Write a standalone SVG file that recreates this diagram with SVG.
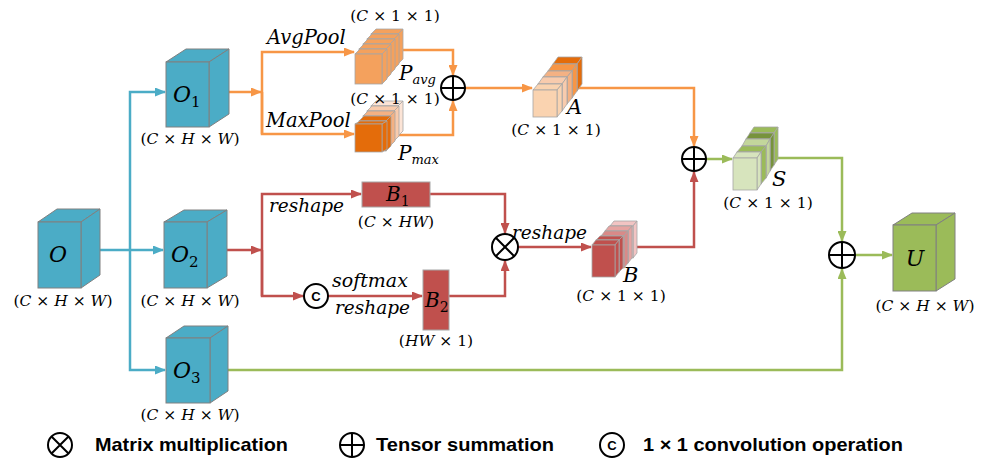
<svg xmlns="http://www.w3.org/2000/svg" width="989" height="458" viewBox="0 0 989 458">
<style>
.cb{fill:#4BACC6;stroke:#808080;stroke-width:1}
.cu{fill:#9BBB59;stroke:#808080;stroke-width:1}
.sl{stroke:#A6A6A6;stroke-width:0.8}
.m{font-family:"DejaVu Serif","Liberation Serif",serif;fill:#000}
.i{font-style:italic}
.dim{font-family:"DejaVu Serif","Liberation Serif",serif;font-size:15.5px;fill:#000}
.lg{font-family:"Liberation Sans",Arial,sans-serif;font-size:19px;font-weight:bold;fill:#000}
.bl{fill:none;stroke:#4BACC6;stroke-width:2.5}
.or{fill:none;stroke:#F79646;stroke-width:2.5}
.rd{fill:none;stroke:#C0504D;stroke-width:2.5}
.gr{fill:none;stroke:#9BBB59;stroke-width:2.5}
.op{fill:#fff;stroke:#000;stroke-width:2}
.opl{stroke:#000;stroke-width:2}
</style>
<defs>
<marker id="ab" markerWidth="11" markerHeight="9" refX="10" refY="4.5" orient="auto" markerUnits="userSpaceOnUse"><path d="M0,0 L11,4.5 L0,9 z" fill="#4BACC6"/></marker>
<marker id="ao" markerWidth="11" markerHeight="9" refX="10" refY="4.5" orient="auto" markerUnits="userSpaceOnUse"><path d="M0,0 L11,4.5 L0,9 z" fill="#F79646"/></marker>
<marker id="ar" markerWidth="11" markerHeight="9" refX="10" refY="4.5" orient="auto" markerUnits="userSpaceOnUse"><path d="M0,0 L11,4.5 L0,9 z" fill="#C0504D"/></marker>
<marker id="ag" markerWidth="11" markerHeight="9" refX="10" refY="4.5" orient="auto" markerUnits="userSpaceOnUse"><path d="M0,0 L11,4.5 L0,9 z" fill="#9BBB59"/></marker>
</defs>

<g id="connectors">
<path class="bl" d="M100,250 L163,250" marker-end="url(#ab)"/>
<path class="bl" d="M130,250 L130,92 L165,92" marker-end="url(#ab)"/>
<path class="bl" d="M130,250 L130,370 L165,370" marker-end="url(#ab)"/>
<path class="or" d="M229,92 L261,92" marker-end="url(#ao)"/>
<path class="or" d="M262,134 L262,52 L354,52" marker-end="url(#ao)"/>
<path class="or" d="M262,92 L262,134 L354,134" marker-end="url(#ao)"/>
<path class="or" d="M400,50 L453,50 L453,75" marker-end="url(#ao)"/>
<path class="or" d="M395,135 L453,135 L453,101" marker-end="url(#ao)"/>
<path class="or" d="M465,88 L532,88" marker-end="url(#ao)"/>
<path class="or" d="M575,88 L694,88 L694,146" marker-end="url(#ao)"/>
<path class="rd" d="M227,250 L261,250" marker-end="url(#ar)"/>
<path class="rd" d="M262,296 L262,194 L361,194" marker-end="url(#ar)"/>
<path class="rd" d="M262,250 L262,296 L303,296" marker-end="url(#ar)"/>
<path class="rd" d="M328,296 L422,296" marker-end="url(#ar)"/>
<path class="rd" d="M430,194 L505,194 L505,233" marker-end="url(#ar)"/>
<path class="rd" d="M449,296 L505,296 L505,261" marker-end="url(#ar)"/>
<path class="rd" d="M518,247 L591,247" marker-end="url(#ar)"/>
<path class="rd" d="M630,247 L694,247 L694,172" marker-end="url(#ar)"/>
<path class="gr" d="M706,159 L732,159" marker-end="url(#ag)"/>
<path class="gr" d="M772,158 L842,158 L842,241" marker-end="url(#ag)"/>
<path class="gr" d="M855,255 L892,255" marker-end="url(#ag)"/>
<path class="gr" d="M228,370 L842,370 L842,269" marker-end="url(#ag)"/>
</g>

<g id="O">
<path class="cb" d="M38,222 L57,209 L100,209 L81,222 Z"/>
<path class="cb" d="M81,222 L100,209 L100,275 L81,288 Z"/>
<rect class="cb" x="38" y="222" width="43" height="66"/>
<text class="m i" x="58" y="262" font-size="22" text-anchor="middle">O</text>
<text class="dim" x="63" y="306" text-anchor="middle">(<tspan font-style="italic">C</tspan> × <tspan font-style="italic">H</tspan> × <tspan font-style="italic">W</tspan>)</text>
</g>

<g id="O1">
<path class="cb" d="M166,62 L186,49 L229,49 L209,62 Z"/>
<path class="cb" d="M209,62 L229,49 L229,114 L209,127 Z"/>
<rect class="cb" x="166" y="62" width="43" height="65"/>
<text class="m i" x="173" y="102" font-size="22">O<tspan font-style="normal" font-size="15" dy="5">1</tspan></text>
<text class="dim" x="190" y="144" text-anchor="middle">(<tspan font-style="italic">C</tspan> × <tspan font-style="italic">H</tspan> × <tspan font-style="italic">W</tspan>)</text>
</g>

<g id="O2">
<path class="cb" d="M164,222 L184,210 L227,210 L207,222 Z"/>
<path class="cb" d="M207,222 L227,210 L227,276 L207,288 Z"/>
<rect class="cb" x="164" y="222" width="43" height="66"/>
<text class="m i" x="171" y="262" font-size="22">O<tspan font-style="normal" font-size="15" dy="5">2</tspan></text>
<text class="dim" x="190" y="306" text-anchor="middle">(<tspan font-style="italic">C</tspan> × <tspan font-style="italic">H</tspan> × <tspan font-style="italic">W</tspan>)</text>
</g>

<g id="O3">
<path class="cb" d="M166,338 L184,326 L228,326 L210,338 Z"/>
<path class="cb" d="M210,338 L228,326 L228,391 L210,403 Z"/>
<rect class="cb" x="166" y="338" width="44" height="65"/>
<text class="m i" x="173" y="378" font-size="22">O<tspan font-style="normal" font-size="15" dy="5">3</tspan></text>
<text class="dim" x="190" y="420" text-anchor="middle">(<tspan font-style="italic">C</tspan> × <tspan font-style="italic">H</tspan> × <tspan font-style="italic">W</tspan>)</text>
</g>

<g id="Pavg">
<g class="sl">
<g fill="#F4A15D"><path d="M371,34 L398,34 L403,29 L376,29 Z"/><path d="M398,34 L403,29 L403,59 L398,64 Z"/><rect x="371" y="34" width="27" height="30"/></g>
<g fill="#F4A15D"><path d="M367,39 L394,39 L399,34 L372,34 Z"/><path d="M394,39 L399,34 L399,64 L394,69 Z"/><rect x="367" y="39" width="27" height="30"/></g>
<g fill="#F4A15D"><path d="M363,44 L390,44 L395,39 L368,39 Z"/><path d="M390,44 L395,39 L395,69 L390,74 Z"/><rect x="363" y="44" width="27" height="30"/></g>
<g fill="#F4A15D"><path d="M359,49 L386,49 L391,44 L364,44 Z"/><path d="M386,49 L391,44 L391,74 L386,79 Z"/><rect x="359" y="49" width="27" height="30"/></g>
<g fill="#F4A15D"><path d="M355,54 L382,54 L387,49 L360,49 Z"/><path d="M382,54 L387,49 L387,79 L382,84 Z"/><rect x="355" y="54" width="27" height="30"/></g>
</g>
<text class="dim" x="395" y="21" text-anchor="middle">(<tspan font-style="italic">C</tspan> × 1 × 1)</text>
<text class="m i" x="399" y="80" font-size="20">P<tspan font-size="13" dy="4">avg</tspan></text>
</g>

<g id="Pmax">
<g class="sl">
<g fill="#FCE4D6"><path d="M371,106 L398,106 L403,101 L376,101 Z"/><path d="M398,106 L403,101 L403,131 L398,136 Z"/><rect x="371" y="106" width="27" height="30"/></g>
<g fill="#F8CBAD"><path d="M367,111 L394,111 L399,106 L372,106 Z"/><path d="M394,111 L399,106 L399,136 L394,141 Z"/><rect x="367" y="111" width="27" height="30"/></g>
<g fill="#F4B183"><path d="M363,116 L390,116 L395,111 L368,111 Z"/><path d="M390,116 L395,111 L395,141 L390,146 Z"/><rect x="363" y="116" width="27" height="30"/></g>
<g fill="#E46C0A"><path d="M359,121 L386,121 L391,116 L364,116 Z"/><path d="M386,121 L391,116 L391,146 L386,151 Z"/><rect x="359" y="121" width="27" height="30"/></g>
<g fill="#E46C0A"><path d="M355,124 L382,124 L387,121 L360,121 Z"/><path d="M382,124 L387,121 L387,149 L382,152 Z"/><rect x="355" y="124" width="27" height="28"/></g>
</g>
<text class="dim" x="395" y="104" text-anchor="middle">(<tspan font-style="italic">C</tspan> × 1 × 1)</text>
<text class="m i" x="398" y="160" font-size="20">P<tspan font-size="13" dy="4">max</tspan></text>
</g>

<g id="sum1">
<circle class="op" cx="453" cy="88" r="12"/>
<path class="opl" d="M441,88 H465 M453,76 V100"/>
</g>

<g id="A">
<g class="sl">
<g fill="#E46C0A"><path d="M553,64 L577,64 L582,57 L558,57 Z"/><path d="M577,64 L582,57 L582,84 L577,91 Z"/><rect x="553" y="64" width="24" height="27"/></g>
<g fill="#F79646"><path d="M548,71 L572,71 L577,64 L553,64 Z"/><path d="M572,71 L577,64 L577,91 L572,98 Z"/><rect x="548" y="71" width="24" height="27"/></g>
<g fill="#F4B183"><path d="M543,77 L567,77 L572,71 L548,71 Z"/><path d="M567,77 L572,71 L572,98 L567,104 Z"/><rect x="543" y="77" width="24" height="27"/></g>
<g fill="#F8CBAD"><path d="M538,84 L562,84 L567,77 L543,77 Z"/><path d="M562,84 L567,77 L567,104 L562,111 Z"/><rect x="538" y="84" width="24" height="27"/></g>
<g fill="#FAD3B0"><path d="M533,90 L557,90 L562,84 L538,84 Z"/><path d="M557,90 L562,84 L562,111 L557,117 Z"/><rect x="533" y="90" width="24" height="27"/></g>
</g>
<text class="m i" x="567" y="114" font-size="21">A</text>
<text class="dim" x="556" y="135" text-anchor="middle">(<tspan font-style="italic">C</tspan> × 1 × 1)</text>
</g>

<g id="B1">
<rect x="362" y="182" width="68" height="25" fill="#C0504D" stroke="#A6A6A6" stroke-width="1"/>
<text class="m i" x="386" y="201" font-size="20">B<tspan font-style="normal" font-size="14" dy="5">1</tspan></text>
<text class="dim" x="396" y="227" text-anchor="middle">(<tspan font-style="italic">C</tspan> × <tspan font-style="italic">HW</tspan>)</text>
<text class="m i" x="269" y="212" font-size="18.5">reshape</text>
</g>

<g id="conv">
<circle class="op" cx="316" cy="296" r="12"/>
<text x="316" y="301" font-family="Liberation Sans,Arial,sans-serif" font-size="13" font-weight="bold" text-anchor="middle">C</text>
<text class="m i" x="332" y="287" font-size="19">softmax</text>
<text class="m i" x="335" y="314" font-size="18.5">reshape</text>
</g>

<g id="B2">
<rect x="423" y="270" width="26" height="60" fill="#C0504D" stroke="#A6A6A6" stroke-width="1"/>
<text class="m i" x="425" y="307" font-size="20">B<tspan font-style="normal" font-size="14" dy="5">2</tspan></text>
<text class="dim" x="436" y="346" text-anchor="middle">(<tspan font-style="italic">HW</tspan> × 1)</text>
</g>

<g id="mul">
<circle class="op" cx="505" cy="247" r="13"/>
<path class="opl" d="M495.8,237.8 L514.2,256.2 M514.2,237.8 L495.8,256.2"/>
<text class="m i" x="512" y="239" font-size="18.5">reshape</text>
</g>

<g id="B">
<g class="sl">
<g fill="#F2C4C3"><path d="M610,226 L633,226 L637,221 L614,221 Z"/><path d="M633,226 L637,221 L637,253 L633,258 Z"/><rect x="610" y="226" width="23" height="32"/></g>
<g fill="#E6A3A1"><path d="M605,231 L628,231 L632,226 L609,226 Z"/><path d="M628,231 L632,226 L632,258 L628,263 Z"/><rect x="605" y="231" width="23" height="32"/></g>
<g fill="#D98A88"><path d="M601,236 L624,236 L628,231 L605,231 Z"/><path d="M624,236 L628,231 L628,263 L624,268 Z"/><rect x="601" y="236" width="23" height="32"/></g>
<g fill="#C0504D"><path d="M596,240 L619,240 L623,236 L600,236 Z"/><path d="M619,240 L623,236 L623,268 L619,272 Z"/><rect x="596" y="240" width="23" height="32"/></g>
<g fill="#C0504D"><path d="M592,245 L615,245 L619,240 L596,240 Z"/><path d="M615,245 L619,240 L619,272 L615,277 Z"/><rect x="592" y="245" width="23" height="32"/></g>
</g>
<text class="m i" x="623" y="282" font-size="21">B</text>
<text class="dim" x="621" y="301" text-anchor="middle">(<tspan font-style="italic">C</tspan> × 1 × 1)</text>
</g>

<g id="sum2">
<circle class="op" cx="694" cy="159" r="12"/>
<path class="opl" d="M682,159 H706 M694,147 V171"/>
</g>

<g id="S">
<g class="sl">
<g fill="#9BBB59"><path d="M750,133 L774,133 L778,127 L754,127 Z"/><path d="M774,133 L778,127 L778,159 L774,165 Z"/><rect x="750" y="133" width="24" height="32"/></g>
<g fill="#77933C"><path d="M746,139 L770,139 L774,133 L750,133 Z"/><path d="M770,139 L774,133 L774,165 L770,171 Z"/><rect x="746" y="139" width="24" height="32"/></g>
<g fill="#C3D69B"><path d="M742,146 L766,146 L770,139 L746,139 Z"/><path d="M766,146 L770,139 L770,171 L766,178 Z"/><rect x="742" y="146" width="24" height="32"/></g>
<g fill="#9BBB59"><path d="M737,152 L761,152 L766,146 L742,146 Z"/><path d="M761,152 L766,146 L766,178 L761,184 Z"/><rect x="737" y="152" width="24" height="32"/></g>
<g fill="#D7E4BD"><path d="M733,158 L757,158 L761,152 L737,152 Z"/><path d="M757,158 L761,152 L761,184 L757,190 Z"/><rect x="733" y="158" width="24" height="32"/></g>
</g>
<text class="m i" x="772" y="186" font-size="21">S</text>
<text class="dim" x="768" y="208" text-anchor="middle">(<tspan font-style="italic">C</tspan> × 1 × 1)</text>
</g>

<g id="sum3">
<circle class="op" cx="842" cy="255" r="13"/>
<path class="opl" d="M829,255 H855 M842,242 V268"/>
</g>

<g id="U">
<path class="cu" d="M893,225 L912,213 L955,213 L936,225 Z"/>
<path class="cu" d="M936,225 L955,213 L955,279 L936,291 Z"/>
<rect class="cu" x="893" y="225" width="43" height="66"/>
<text class="m i" x="915" y="266" font-size="22" text-anchor="middle">U</text>
<text class="dim" x="925" y="311" text-anchor="middle">(<tspan font-style="italic">C</tspan> × <tspan font-style="italic">H</tspan> × <tspan font-style="italic">W</tspan>)</text>
</g>

<g id="AvgMax">
<text class="m i" x="267" y="44" font-size="19.5">AvgPool</text>
<text class="m i" x="266" y="127" font-size="19.5">MaxPool</text>
</g>

<g id="legend">
<circle class="op" cx="60" cy="445" r="12"/>
<path class="opl" d="M51.5,436.5 L68.5,453.5 M68.5,436.5 L51.5,453.5"/>
<text class="lg" x="95" y="451" textLength="193" lengthAdjust="spacingAndGlyphs">Matrix multiplication</text>
<circle class="op" cx="352" cy="445" r="12"/>
<path class="opl" d="M340,445 H364 M352,433 V457"/>
<text class="lg" x="376" y="451" textLength="178" lengthAdjust="spacingAndGlyphs">Tensor summation</text>
<circle class="op" cx="612" cy="445" r="12"/>
<text x="612" y="450" font-family="Liberation Sans,Arial,sans-serif" font-size="13" font-weight="bold" text-anchor="middle">C</text>
<text class="lg" x="643" y="451" textLength="260" lengthAdjust="spacingAndGlyphs">1 × 1 convolution operation</text>
</g>
</svg>
